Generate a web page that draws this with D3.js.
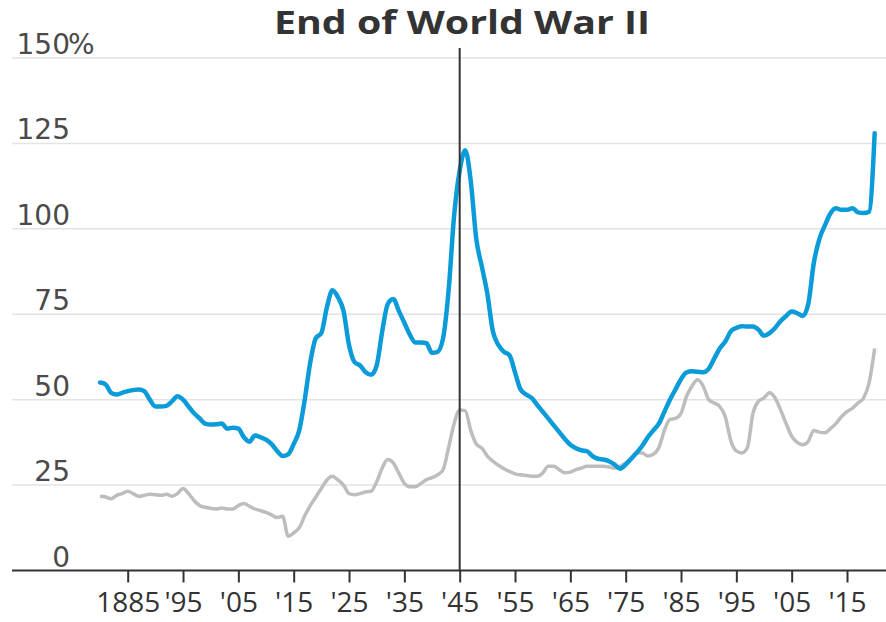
<!DOCTYPE html>
<meta charset="utf-8">
<style>
  body { margin: 0; background: #fff; }
</style>
<script src="https://d3js.org/d3.v7.min.js"></script>
<div id="chart"></div>
<script>
var width = 886
var height = 622

// debt as share of GDP
var years = d3.range(1880, 2021)
var blueValues = [
  55, 54.5, 52, 51.5, 52, 52.5, 52.8, 53, 52.5, 50,          // 1880s
  48, 48, 48.2, 49.5, 51, 50, 48, 46, 44.5, 43,              // 1890s
  42.7, 42.8, 43, 41.5, 41.8, 41.5, 39, 37.7, 39.5, 39,      // 1900s
  38.3, 37, 35, 33.5, 34, 37, 41, 50, 61, 68,                // 1910s
  69.5, 77, 82, 80, 76, 66, 61, 60, 58, 57.3,                // 1920s
  60, 70, 78, 79.5, 76, 72.5, 69, 66.7, 66.7, 66.5,          // 1930s
  63.7, 64, 68, 82, 104, 117, 123, 114, 97, 89,              // 1940s
  81, 70, 66, 64, 63, 58, 53, 51.5, 50.5, 48.5,              // 1950s
  46.5, 44.5, 42.5, 40.5, 38.5, 36.8, 35.8, 35.2, 34.9, 33.5,// 1960s
  32.7, 32.5, 32, 31, 29.8, 31, 32.7, 34.5, 36.5, 39,        // 1970s
  41, 43, 46.5, 50, 53, 56, 58, 58.3, 58.2, 58,              // 1980s
  59, 62, 65, 67, 70, 71, 71.5, 71.4, 71.4, 70.5,            // 1990s
  68.7, 69.5, 71, 73, 74.5, 75.8, 75.3, 74.5, 78, 90,        // 2000s
  97, 101, 104.5, 106, 105.6, 105.6, 106, 104.8, 104.6, 105, // 2010s
  128                                                        // 2020
]
var grayValues = [
  21.7, 21.5, 21, 22, 22.5, 23.2, 22.5, 21.7, 22, 22.3,
  22.2, 22, 22.3, 21.7, 22.5, 24, 22.5, 20.5, 19, 18.5,
  18.2, 18, 18.3, 18, 18, 19, 19.6, 18.8, 18, 17.5,
  17, 16.3, 15.5, 15.9, 10, 11, 12.5, 16, 19, 21.5,
  24, 26.5, 27.6, 26.5, 25, 22.5, 22.2, 22.5, 23, 23.2,
  26, 30, 32.5, 31.5, 28.5, 25.5, 24.5, 24.5, 25.5, 26.6,
  27.2, 28, 29.5, 36, 43, 47, 46.8, 41, 37, 35.8,
  33.5, 32, 30.8, 29.8, 29, 28.3, 28, 27.8, 27.6, 27.6,
  28.5, 30.5, 30.5, 29.5, 28.6, 28.8, 29.5, 30, 30.5, 30.5,
  30.5, 30.5, 30.3, 30, 30.5, 31.5, 33, 34.5, 34.4, 33.5,
  34, 36, 41, 44.2, 44.5, 46, 51, 54, 55.8, 54,
  50, 49, 48, 45, 38, 35, 34.4, 36, 46, 49.5,
  50.5, 52, 50.5, 47, 43, 39.3, 37.5, 36.8, 37.8, 41,
  40.5, 40.3, 41.5, 43, 45, 46.5, 47.5, 49, 50.5, 55,
  65
]
var xTicks = d3.range(1885, 2016, 10)
var yTicks = [0, 25, 50, 75, 100, 125, 150]
var markerYear = 1945
var title = "End of World War II"

var svg = d3.select("#chart")
  .append("svg")
    .attr("width", width)
    .attr("height", height)

var x = d3.scaleLinear()
    .domain([1885, 2015])
    .range([127.7, 847])
var y = d3.scaleLinear()
    .domain([0, 150])
    .range([570.5, 58])

// gridlines + y labels
var grid = svg.append("g")
grid.selectAll("line")
  .data(yTicks.filter(function(d){ return d > 0 }))
  .enter().append("line")
    .attr("x1", 12)
    .attr("x2", width)
    .attr("y1", function(d){ return y(d) })
    .attr("y2", function(d){ return y(d) })
    .style("stroke", "#e3e3e3")
    .style("stroke-width", 1.5)

grid.selectAll("text")
  .data(yTicks)
  .enter().append("text")
    .attr("x", 70)
    .attr("y", function(d){ return y(d) - 4 })
    .attr("text-anchor", "end")
    .style("font-family", "DejaVu Sans")
    .style("font-size", "28px")
    .style("fill", "#4a4a4a")
    .text(function(d){ return d })

svg.append("text")
    .attr("x", 68)
    .attr("y", y(150) - 4)
    .style("font-family", "DejaVu Sans")
    .style("font-size", "28px")
    .style("fill", "#4a4a4a")
    .text("%")

// lines
var line = d3.line()
    .x(function(d){ return x(d[0]) })
    .y(function(d){ return y(d[1]) })
    .curve(d3.curveMonotoneX)

svg.append("path")
    .datum(years.map(function(yr, i){ return [yr, grayValues[i]] }))
    .attr("d", line)
    .style("fill", "none")
    .style("stroke", "#bdbdbd")
    .style("stroke-width", 3.5)
    .style("stroke-linejoin", "round")

svg.append("path")
    .datum(years.map(function(yr, i){ return [yr, blueValues[i]] }))
    .attr("d", line)
    .style("fill", "none")
    .style("stroke", "#0a9bd8")
    .style("stroke-width", 4.5)
    .style("stroke-linejoin", "round")
    .style("stroke-linecap", "round")

// x axis
var xAxis = d3.axisBottom(x)
    .tickValues(xTicks)
    .tickSize(12)
    .tickPadding(10)
    .tickFormat(function(d){ return d == 1885 ? "1885" : "'" + String(d).slice(2) })

var gx = svg.append("g")
    .attr("transform", "translate(0," + y(0) + ")")
    .call(xAxis)
gx.select(".domain").remove()
gx.selectAll(".tick line").style("stroke", "#333").style("stroke-width", 2)
gx.selectAll(".tick text")
    .style("font-family", "Open Sans")
    .style("font-size", "28px")
    .style("fill", "#333")

svg.append("line")
    .attr("x1", 12)
    .attr("x2", width)
    .attr("y1", y(0))
    .attr("y2", y(0))
    .style("stroke", "#333")
    .style("stroke-width", 2)

// marker for end of war
svg.append("line")
    .attr("x1", x(markerYear))
    .attr("x2", x(markerYear))
    .attr("y1", 48)
    .attr("y2", y(0))
    .style("stroke", "#333")
    .style("stroke-width", 2)

svg.append("text")
    .attr("x", 462)
    .attr("y", 34)
    .attr("text-anchor", "middle")
    .attr("textLength", 376)
    .attr("lengthAdjust", "spacingAndGlyphs")
    .style("font-family", "Open Sans")
    .style("font-weight", "bold")
    .style("font-size", "33px")
    .style("fill", "#333")
    .text(title)
</script>
